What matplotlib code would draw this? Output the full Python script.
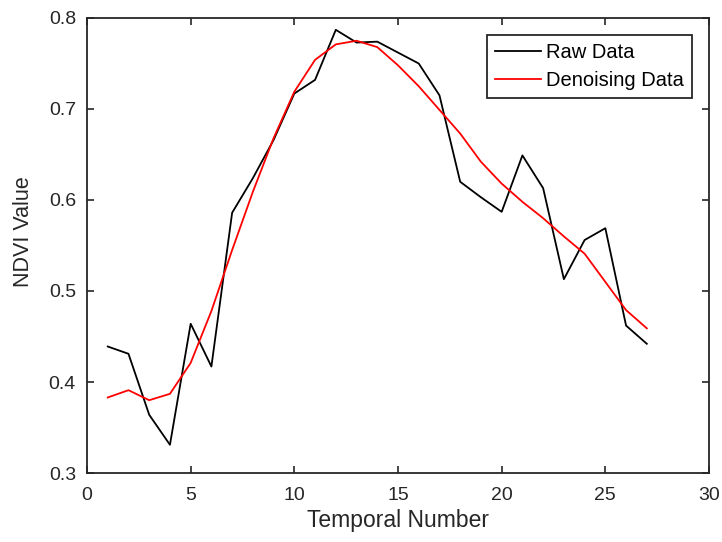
import matplotlib
matplotlib.use("Agg")
import matplotlib.pyplot as plt

plt.rcParams['font.family'] = ['Liberation Sans', 'DejaVu Sans']

temporal = list(range(1, 28))
raw_data = [0.439, 0.431, 0.364, 0.331, 0.464, 0.417, 0.586, 0.624, 0.666, 0.717,
            0.732, 0.787, 0.773, 0.774, 0.762, 0.750, 0.715, 0.620, 0.603, 0.587,
            0.649, 0.613, 0.513, 0.556, 0.569, 0.462, 0.442]
denoised = [0.383, 0.391, 0.380, 0.387, 0.421, 0.478, 0.545, 0.609, 0.668, 0.719,
            0.754, 0.771, 0.775, 0.768, 0.748, 0.725, 0.699, 0.673, 0.642, 0.618,
            0.598, 0.580, 0.560, 0.541, 0.510, 0.479, 0.459]

xticks = [0, 5, 10, 15, 20, 25, 30]
yticks = [0.3, 0.4, 0.5, 0.6, 0.7, 0.8]

fig = plt.figure(figsize=(7.22, 5.42), dpi=100)
ax = fig.add_axes([0.1205, 0.1273, 0.8615, 0.8395])
ax.plot(temporal, raw_data, color='black', lw=1.3, label='Raw Data')
ax.plot(temporal, denoised, color='red', lw=1.3, label='Denoising Data')

ax.set_xlim(0, 30)
ax.set_ylim(0.3, 0.8)
ax.set_xticks(xticks)
ax.set_yticks(yticks)
ax.set_xticklabels([str(t) for t in xticks])
ax.set_yticklabels([f"{t:.1f}" for t in yticks])
ax.tick_params(direction='in', top=True, right=True, length=5, width=1.2,
               labelsize=14, labelcolor='#262626', color='#262626')
ax.tick_params(axis='x', pad=10)
ax.tick_params(axis='y', pad=8)
for s in ax.spines.values():
    s.set_color('#262626')
    s.set_linewidth(1.3)
ax.set_xlabel('Temporal Number', fontsize=16.5, color='#262626', labelpad=4)
ax.set_ylabel('NDVI Value', fontsize=15.5, color='#262626')
ax.yaxis.set_label_coords(-0.085, 0.53)

leg = ax.legend(loc='upper right', fontsize=14.5, fancybox=False, framealpha=1,
                edgecolor='#262626', borderaxespad=0.85, handlelength=2.3,
                handletextpad=0.25, borderpad=0.4, labelspacing=0.45)
leg.get_frame().set_linewidth(1.3)

fig.savefig('out.png', dpi=100)
